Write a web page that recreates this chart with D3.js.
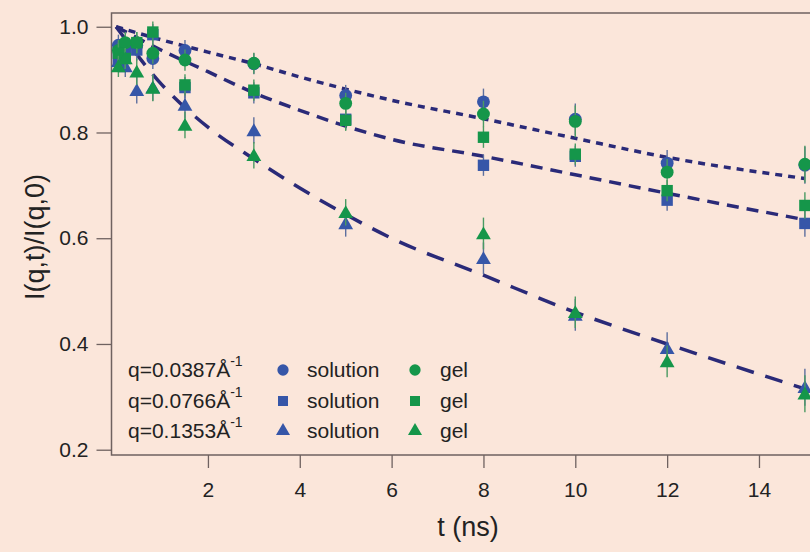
<!DOCTYPE html>
<html>
<head>
<meta charset="utf-8">
<script src="https://cdn.jsdelivr.net/npm/d3@7"></script>
<style>
  body { margin: 0; background: #fbe6da; }
  svg { display: block; font-family: "Liberation Sans", Arial, sans-serif; }
</style>
</head>
<body>
<div id="chart"></div>
<script>
// Dữ liệu
const times = [0.05, 0.2, 0.45, 0.8, 1.5, 3, 5, 8, 10, 12, 15];

const solCircle = [0.965, 0.96, 0.965, 0.94, 0.955, 0.93, 0.87, 0.858, 0.825, 0.742, 0.738];
const gelCircle = [0.955, 0.97, 0.97, 0.95, 0.937, 0.931, 0.855, 0.835, 0.821, 0.725, 0.74];
const solSquare = [0.94, 0.95, 0.956, 0.985, 0.885, 0.875, 0.825, 0.738, 0.755, 0.672, 0.628];
const gelSquare = [0.95, 0.94, 0.97, 0.99, 0.89, 0.88, 0.823, 0.791, 0.759, 0.69, 0.662];
const solTri = [0.935, 0.925, 0.88, 0.885, 0.852, 0.804, 0.628, 0.562, 0.455, 0.392, 0.318];
const gelTri = [0.925, 0.94, 0.915, 0.884, 0.814, 0.757, 0.649, 0.609, 0.46, 0.367, 0.306];

// sai số (nửa chiều dài thanh lỗi)
const errCircle = [0.02, 0.02, 0.02, 0.02, 0.02, 0.02, 0.02, 0.025, 0.03, 0.025, 0.035];
const errSquare = [0.02, 0.02, 0.02, 0.02, 0.02, 0.02, 0.02, 0.02, 0.02, 0.02, 0.025];
const errTri = [0.02, 0.02, 0.025, 0.025, 0.025, 0.025, 0.025, 0.03, 0.03, 0.03, 0.035];

// Đường fit (đọc tại các điểm t)
const fitT = [0, 1, 2, 3, 4, 5, 6, 8, 10, 12, 15];
const fitQ1 = [1.0, 0.975, 0.952, 0.93, 0.905, 0.882, 0.861, 0.826, 0.789, 0.753, 0.713];
const fitQ2 = [1.0, 0.955, 0.915, 0.875, 0.842, 0.812, 0.787, 0.755, 0.72, 0.685, 0.635];
const fitQ3 = [1.0, 0.89, 0.81, 0.75, 0.695, 0.645, 0.6, 0.53, 0.46, 0.4, 0.315];

const yTicks = [0.2, 0.4, 0.6, 0.8, 1.0];
const xTicks = [2, 4, 6, 8, 10, 12, 14];
const qLabels = ["q=0.0387", "q=0.0766", "q=0.1353"];

const W = 810, H = 552;
const mLeft = 111.5, mTop = 13, mRight = 815, mBottom = 455;
const blue = "#3656a8", green = "#15964a", fitColor = "#2a2a78";
const errBlue = "#5d6f9e", errGreen = "#4a9a62";

const svg = d3.select("#chart").append("svg")
    .attr("width", W).attr("height", H);

svg.append("rect").attr("width", W).attr("height", H).attr("fill", "#fbe6da");

const x = d3.scaleLinear().domain([-0.1, 15.22]).range([mLeft, mRight]);
const y = d3.scaleLinear().domain([0.19, 1.026]).range([mBottom, mTop]);

// Khung
const frameColor = "#6f6260";
svg.append("path")
    .attr("d", `M${mRight},${mTop}H${mLeft}V${mBottom}H${mRight}`)
    .attr("fill", "none").attr("stroke", frameColor).attr("stroke-width", 1.5);

// Trục
const xAxis = svg.append("g").attr("transform", `translate(0,${mBottom})`)
    .call(d3.axisBottom(x).tickValues(xTicks).tickSize(13).tickPadding(14).tickFormat(d3.format("d")));
const yAxis = svg.append("g").attr("transform", `translate(${mLeft},0)`)
    .call(d3.axisLeft(y).tickValues(yTicks).tickSize(15).tickPadding(8).tickFormat(d3.format(".1f")));
[xAxis, yAxis].forEach(g => {
    g.select(".domain").remove();
    g.selectAll(".tick line").attr("stroke", frameColor).attr("stroke-width", 1.3);
    g.selectAll(".tick text").attr("fill", "#222").style("font-size", "21px")
        .style("font-family", "Liberation Sans, Arial, sans-serif");
});

// Nhãn trục
svg.append("text").attr("x", 468).attr("y", 536).attr("text-anchor", "middle")
    .attr("fill", "#222").style("font-size", "27px").text("t (ns)");
svg.append("text").attr("transform", "translate(44,237) rotate(-90)")
    .attr("text-anchor", "middle").attr("fill", "#222").style("font-size", "27px")
    .text("I(q,t)/I(q,0)");

// Đường fit
const plot = svg.append("g");
const line = d3.line().x(d => x(d[0])).y(d => y(d[1])).curve(d3.curveMonotoneX);
const fits = [
    { vals: fitQ1, dash: "7,6" },
    { vals: fitQ2, dash: "12,8" },
    { vals: fitQ3, dash: "18,12" }
];
fits.forEach(f => {
    plot.append("path")
        .datum(fitT.map((t, i) => [t, f.vals[i]]))
        .attr("d", line).attr("fill", "none")
        .attr("stroke", fitColor).attr("stroke-width", 3.5)
        .attr("stroke-dasharray", f.dash);
});

// Điểm dữ liệu
const series = [
    { vals: solCircle, err: errCircle, sym: d3.symbolCircle, size: 130, color: blue, ec: errBlue },
    { vals: solSquare, err: errSquare, sym: d3.symbolSquare, size: 130, color: blue, ec: errBlue },
    { vals: solTri, err: errTri, sym: d3.symbolTriangle, size: 95, color: blue, ec: errBlue },
    { vals: gelCircle, err: errCircle, sym: d3.symbolCircle, size: 130, color: green, ec: errGreen },
    { vals: gelSquare, err: errSquare, sym: d3.symbolSquare, size: 130, color: green, ec: errGreen },
    { vals: gelTri, err: errTri, sym: d3.symbolTriangle, size: 95, color: green, ec: errGreen }
];

series.forEach(s => {
    const pts = times.map((t, i) => ({ t, v: s.vals[i], e: s.err[i] }));
    plot.append("g").selectAll("line").data(pts).join("line")
        .attr("x1", d => x(d.t)).attr("x2", d => x(d.t))
        .attr("y1", d => y(d.v - d.e)).attr("y2", d => y(d.v + d.e))
        .attr("stroke", s.ec).attr("stroke-width", 1.4);
    plot.append("g").selectAll("path").data(pts).join("path")
        .attr("transform", d => `translate(${x(d.t)},${y(d.v) + (s.sym === d3.symbolTriangle ? 1.5 : 0)})`)
        .attr("d", d3.symbol().type(s.sym).size(s.size))
        .attr("fill", s.color);
});

// Chú giải
const legend = svg.append("g");
const rowY = [377, 408, 438];
const legSyms = [d3.symbolCircle, d3.symbolSquare, d3.symbolTriangle];
qLabels.forEach((q, i) => {
    const t = legend.append("text").attr("x", 128).attr("y", rowY[i])
        .attr("fill", "#222").style("font-size", "21px");
    t.append("tspan").text(q + "Å");
    t.append("tspan").attr("dy", -11).style("font-size", "14px").text("-1");
    [[283, 307, blue, "solution"], [415, 440, green, "gel"]].forEach(([mx, tx, c, lab]) => {
        legend.append("path")
            .attr("transform", `translate(${mx},${rowY[i] - 7})`)
            .attr("d", d3.symbol().type(legSyms[i]).size(i === 2 ? 85 : 100))
            .attr("fill", c);
        legend.append("text").attr("x", tx).attr("y", rowY[i])
            .attr("fill", "#222").style("font-size", "21px").text(lab);
    });
});
</script>
</body>
</html>
